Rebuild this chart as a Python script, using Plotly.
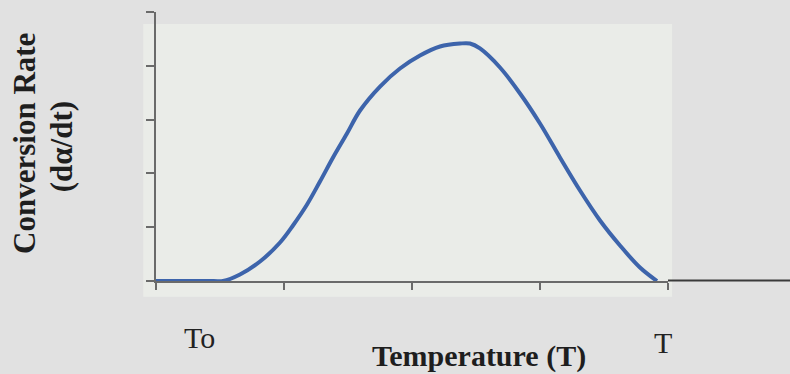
import plotly.graph_objects as go

# Temperature (in tick-interval units) and conversion rate values
temperature = [0.0, 0.45, 0.523, 0.656, 0.8125, 0.969, 1.070, 1.180, 1.281, 1.383, 1.492,
               1.594, 1.75, 1.906, 2.0625, 2.219, 2.375, 2.453, 2.531, 2.6875, 2.844,
               3.0, 3.156, 3.3125, 3.469, 3.625, 3.781, 3.914]
conversion_rate = [0.0, 0.0, 0.0, 0.121, 0.362, 0.716, 1.032, 1.422, 1.849, 2.296, 2.742,
                   3.169, 3.615, 3.950, 4.191, 4.359, 4.414, 4.414, 4.322, 3.968, 3.485,
                   2.927, 2.296, 1.682, 1.125, 0.660, 0.251, 0.0]

x_ticks = [0, 1, 2, 3, 4]
y_ticks = [0, 1, 2, 3, 4, 5]

start_label = "To"
end_label = "T"
x_title = "Temperature (T)"
y_title_line1 = "Conversion Rate"
y_title_line2 = "(dα/dt)"

SERIF = "Liberation Serif, Times New Roman, serif"

fig = go.Figure()
fig.add_trace(go.Scatter(
    x=temperature, y=conversion_rate, mode="lines",
    line=dict(color="#3d64ab", width=4, shape="spline", smoothing=1.0),
    hoverinfo="skip", showlegend=False,
))

axis_common = dict(
    showgrid=False, zeroline=False, showticklabels=False,
    showline=True, linecolor="#6a6a6a", linewidth=1.5,
    ticks="outside", tickcolor="#6a6a6a", tickwidth=1.5,
)
fig.update_xaxes(range=[0, 4], tickvals=x_ticks, ticklen=7, **axis_common)
fig.update_yaxes(range=[0, 5], tickvals=y_ticks, ticklen=8, **axis_common)

fig.update_layout(
    width=790, height=374,
    margin=dict(l=156, r=122, t=12, b=93),
    paper_bgcolor="#e1e1e1",
    plot_bgcolor="rgba(0,0,0,0)",
    shapes=[
        dict(type="rect", xref="paper", yref="paper", x0=-0.025, x1=1.008, y0=-0.059, y1=0.955,
             fillcolor="#eaece8", line=dict(width=0), layer="below"),
        dict(type="line", xref="paper", yref="paper", x0=1.0, x1=1.24, y0=0.002, y1=0.002,
             line=dict(color="#3a3a3a", width=2)),
    ],
    annotations=[
        dict(text=start_label, xref="paper", yref="paper", x=0.084, y=-0.211,
             showarrow=False, xanchor="center", yanchor="middle",
             font=dict(family=SERIF, size=30, color="#222222")),
        dict(text=end_label, xref="paper", yref="paper", x=0.990, y=-0.229,
             showarrow=False, xanchor="center", yanchor="middle",
             font=dict(family=SERIF, size=30, color="#222222")),
        dict(text="<b>" + x_title + "</b>", xref="paper", yref="paper", x=0.631, y=-0.279,
             showarrow=False, xanchor="center", yanchor="middle",
             font=dict(family=SERIF, size=30, color="#1e1e1e")),
        dict(text="<b>" + y_title_line1 + "</b>", xref="paper", yref="paper", x=-0.258, y=0.513,
             showarrow=False, xanchor="center", yanchor="middle", textangle=-90,
             font=dict(family=SERIF, size=31, color="#1e1e1e")),
        dict(text="<b>" + y_title_line2 + "</b>", xref="paper", yref="paper", x=-0.184, y=0.500,
             showarrow=False, xanchor="center", yanchor="middle", textangle=-90,
             font=dict(family=SERIF, size=31, color="#1e1e1e")),
    ],
)

fig.write_html(
    "out.html",
    config={"displayModeBar": False},
    post_script="document.body.style.margin='0';document.body.style.padding='0';"
                "document.body.style.overflow='hidden';",
)
